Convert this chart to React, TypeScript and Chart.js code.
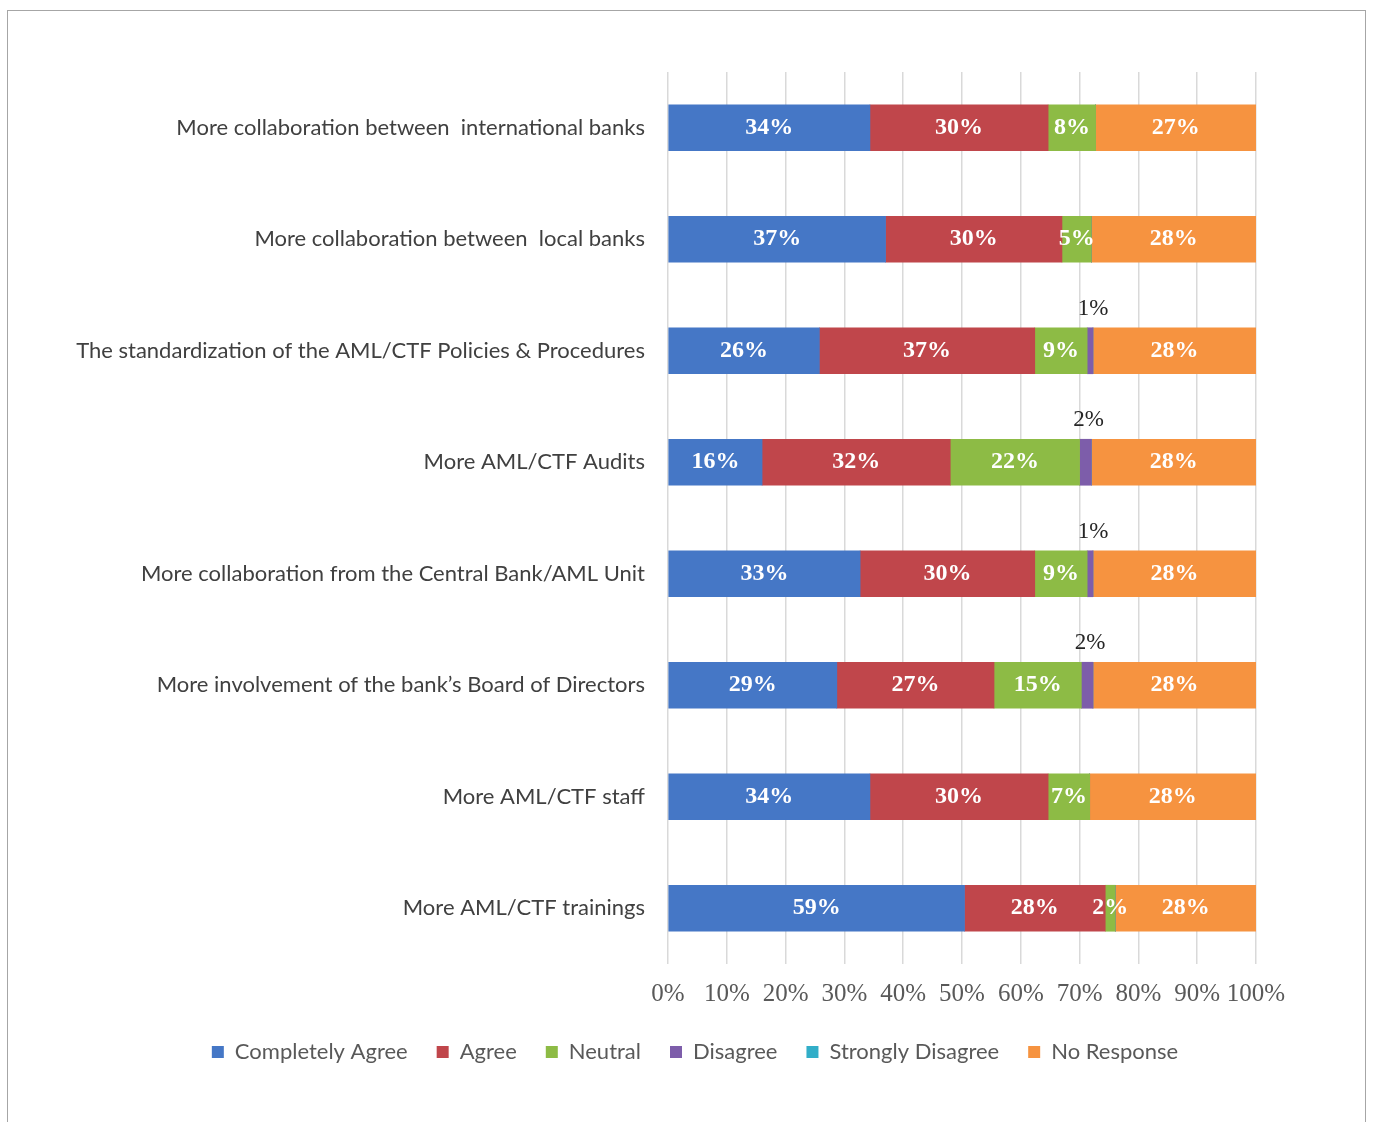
import React, { useEffect, useRef } from "react";
import { Chart, registerables } from "chart.js";

Chart.register(...registerables);

const categories = [
  "More collaboration between  international banks",
  "More collaboration between  local banks",
  "The standardization of the AML/CTF Policies & Procedures",
  "More AML/CTF Audits",
  "More collaboration from the Central Bank/AML Unit",
  "More involvement of the bank\u2019s Board of Directors",
  "More AML/CTF staff",
  "More AML/CTF trainings",
];

const completelyAgree = [34, 37, 26, 16, 33, 29, 34, 59];
const agree = [30, 30, 37, 32, 30, 27, 30, 28];
const neutral = [8, 5, 9, 22, 9, 15, 7, 2];
const disagree = [0, 0, 1, 2, 1, 2, 0, 0];
const stronglyDisagree = [0, 0, 0, 0, 0, 0, 0, 0];
const noResponse = [27, 28, 28, 28, 28, 28, 28, 28];

const seriesNames = ["Completely Agree", "Agree", "Neutral", "Disagree", "Strongly Disagree", "No Response"];
const seriesColors = ["#4577C6", "#C0464B", "#8DBB45", "#7D5DAA", "#32AEC8", "#F69340"];
const rawSeries = [completelyAgree, agree, neutral, disagree, stronglyDisagree, noResponse];

const xTicks = [0, 10, 20, 30, 40, 50, 60, 70, 80, 90, 100];

const SANS = "Lato";
const SERIF = "'Liberation Serif', 'Times New Roman', serif";

const totals = categories.map((_, i) => rawSeries.reduce((s, arr) => s + arr[i], 0));

const labelPlugin = {
  id: "segLabels",
  afterDatasetsDraw(chart: any) {
    const ctx = chart.ctx;
    ctx.save();
    ctx.textAlign = "center";
    ctx.textBaseline = "middle";
    chart.data.datasets.forEach((_ds: any, di: number) => {
      const meta = chart.getDatasetMeta(di);
      const raw = rawSeries[di];
      meta.data.forEach((bar: any, i: number) => {
        const v = raw[i];
        if (!v) return;
        const p = bar.getProps(["x", "y", "base", "height"], true);
        const cx = (p.x + p.base) / 2;
        if (di === 3) {
          ctx.fillStyle = "#262626";
          ctx.font = `23px ${SERIF}`;
          ctx.fillText(v + "%", cx + 3, p.y - p.height / 2 - 19);
        } else {
          ctx.fillStyle = "#ffffff";
          ctx.font = `bold 24px ${SERIF}`;
          ctx.fillText(v + "%", cx, p.y);
        }
      });
    });
    ctx.restore();
  },
};

export default function App() {
  const ref = useRef<HTMLCanvasElement | null>(null);

  useEffect(() => {
    if (!ref.current) return;
    const chart = new Chart(ref.current, {
      type: "bar",
      data: {
        labels: categories,
        datasets: seriesNames.map((name, di) => ({
          label: name,
          data: rawSeries[di].map((v, i) => (v / totals[i]) * 100),
          backgroundColor: seriesColors[di],
          borderWidth: 0,
          barThickness: 46,
        })),
      },
      options: {
        indexAxis: "y",
        responsive: false,
        animation: false,
        layout: { padding: { left: 17, right: 0, top: 72, bottom: 49 } },
        scales: {
          x: {
            stacked: true,
            min: 0,
            max: 100,
            afterBuildTicks: (scale: any) => {
              scale.ticks = xTicks.map((v) => ({ value: v }));
            },
            afterFit: (scale: any) => {
              scale.height = 48;
            },
            grid: { color: "#D9D9D9", lineWidth: 1.5, drawTicks: false },
            border: { display: false },
            ticks: {
              padding: 15,
              color: "#595959",
              autoSkip: false,
              maxRotation: 0,
              minRotation: 0,
              font: { family: SERIF, size: 25 },
              callback: (v: any) => v + "%",
            },
          },
          y: {
            stacked: true,
            afterFit: (scale: any) => {
              scale.width = 651;
            },
            grid: { display: false, drawTicks: false },
            border: { display: false },
            ticks: {
              padding: 23,
              color: "#404040",
              font: { family: SANS, size: 22 },
            },
          },
          yRight: {
            type: "category",
            position: "right",
            afterFit: (scale: any) => {
              scale.width = 117;
            },
            grid: { display: false, drawTicks: false },
            border: { display: false },
            ticks: { display: false },
          },
        },
        plugins: {
          legend: {
            position: "bottom",
            labels: {
              boxWidth: 12,
              boxHeight: 12,
              padding: 29,
              color: "#595959",
              font: { family: SANS, size: 22 },
            },
          },
          tooltip: { enabled: false },
        },
      },
      plugins: [labelPlugin],
    } as any);
    return () => chart.destroy();
  }, []);

  return (
    <div style={{ position: "absolute", left: 0, top: 0, width: 1373, height: 1122, overflow: "hidden", background: "#fff" }}>
      <div
        style={{
          position: "absolute",
          left: 7,
          top: 10,
          width: 1359,
          height: 1130,
          border: "1.5px solid #A6A6A6",
          boxSizing: "border-box",
        }}
      />
      <canvas ref={ref} width={1373} height={1122} style={{ position: "absolute", left: 0, top: 0, width: 1373, height: 1122 }} />
    </div>
  );
}
